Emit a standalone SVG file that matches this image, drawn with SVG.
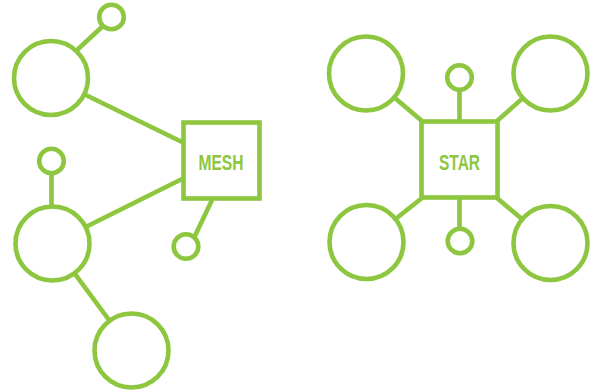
<svg xmlns="http://www.w3.org/2000/svg" width="600" height="392" viewBox="0 0 600 392">
<style>
.s{fill:#fff;stroke:#8dc63f;stroke-width:4.6}
.c line{stroke:#8dc63f;stroke-width:4.6}
.t{font-family:"Liberation Sans",Arial,sans-serif;font-weight:bold;font-size:22px;fill:#8dc63f;text-anchor:middle}
</style>
<rect width="600" height="392" fill="#fff"/>
<g class="c">
<line x1="77" y1="50" x2="103" y2="26"/>
<line x1="51" y1="78" x2="184" y2="143"/>
<line x1="52.5" y1="243.5" x2="184" y2="178"/>
<line x1="51.5" y1="175" x2="51.5" y2="206"/>
<line x1="52.5" y1="243.5" x2="131.5" y2="350.5"/>
<line x1="212" y1="200" x2="193" y2="240"/>
<line x1="366" y1="73.5" x2="422" y2="121"/>
<line x1="550.5" y1="73.5" x2="497" y2="121"/>
<line x1="366.5" y1="242" x2="422" y2="198"/>
<line x1="550.5" y1="243" x2="497" y2="198"/>
<line x1="459.5" y1="90" x2="459.5" y2="121"/>
<line x1="459.5" y1="198" x2="459.5" y2="229"/>
</g>
<g id="mesh"><rect class="s" x="183.5" y="122.5" width="76" height="76"/><text class="t" x="221" y="169.5" textLength="45" lengthAdjust="spacingAndGlyphs">MESH</text></g>
<g id="m1"><circle class="s" cx="51" cy="78" r="37"/></g>
<g id="m2"><circle class="s" cx="111.5" cy="17" r="12.3"/></g>
<g id="m3"><circle class="s" cx="52.5" cy="243.5" r="37"/></g>
<g id="m4"><circle class="s" cx="51.5" cy="161" r="12.3"/></g>
<g id="m5"><circle class="s" cx="131.5" cy="350.5" r="37"/></g>
<g id="m6"><circle class="s" cx="186" cy="246.5" r="12.3"/></g>
<g id="star"><rect class="s" x="421.5" y="121.5" width="76" height="76"/><text class="t" x="459.5" y="169.5" textLength="41" lengthAdjust="spacingAndGlyphs">STAR</text></g>
<g id="s1"><circle class="s" cx="366" cy="73.5" r="37"/></g>
<g id="s2"><circle class="s" cx="550.5" cy="73.5" r="37"/></g>
<g id="s3"><circle class="s" cx="366.5" cy="242" r="37"/></g>
<g id="s4"><circle class="s" cx="550.5" cy="243" r="37"/></g>
<g id="s5"><circle class="s" cx="459.5" cy="77.5" r="12.3"/></g>
<g id="s6"><circle class="s" cx="460" cy="241" r="12.3"/></g>
</svg>
